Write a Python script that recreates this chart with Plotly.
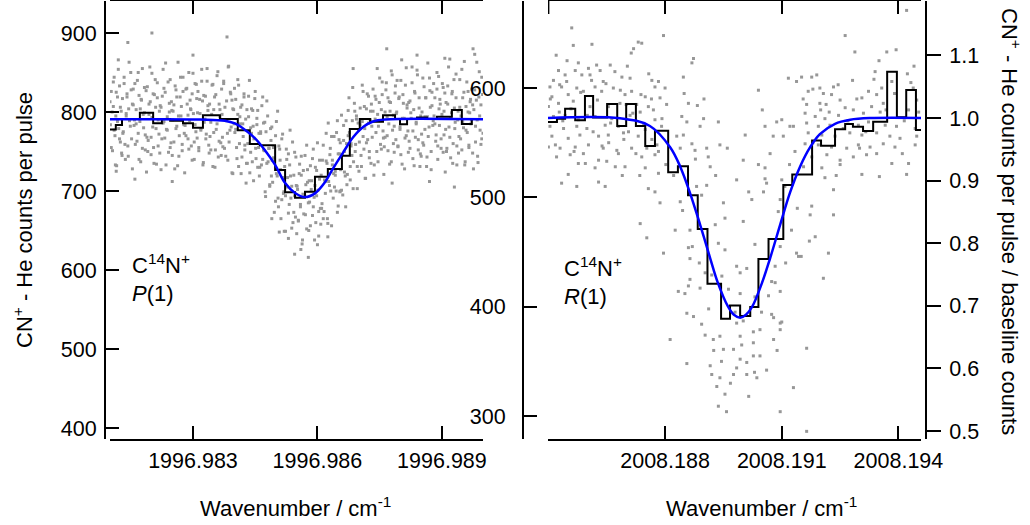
import plotly.graph_objects as go

W, H = 1030, 525
FONT = "Liberation Sans, Arial, Helvetica, sans-serif"

# ================= LEFT PANEL : C14N+  P(1) =================
left_xticks = [1996.983, 1996.986, 1996.989]
left_xticktext = ["1996.983", "1996.986", "1996.989"]
left_yticks = [400, 500, 600, 700, 800, 900]
left_xrange = [1996.98100, 1996.98999]
left_yrange = [386.1, 940.5]

left_hist_edges = [1996.98100, 1996.98114, 1996.98129, 1996.98172, 1996.98204, 1996.98225,
                   1996.98245, 1996.98276, 1996.98300, 1996.98324, 1996.98365, 1996.98408,
                   1996.98437, 1996.98461, 1996.98498, 1996.98522, 1996.98546, 1996.98570,
                   1996.98594, 1996.98625, 1996.98659, 1996.98678, 1996.98702, 1996.98727,
                   1996.98758, 1996.98787, 1996.98799, 1996.98816, 1996.98840, 1996.98864,
                   1996.98888, 1996.98924, 1996.98948, 1996.98972, 1996.98999]
left_hist_counts = [778, 783.5, 791, 799, 785.7, 791, 789, 785.7, 780, 796, 791, 777,
                    759.5, 758, 726.6, 698.4, 691.6, 699, 718, 728, 744.7, 778.5, 791,
                    787.7, 796, 791, 784.4, 791, 793, 791, 794, 802.5, 784.8, 791]

left_fit_x = [1996.98100, 1996.98317, 1996.98377, 1996.98401, 1996.98425, 1996.98449,
              1996.98473, 1996.98498, 1996.98522, 1996.98546, 1996.98570, 1996.98594,
              1996.98618, 1996.98637, 1996.98661, 1996.98686, 1996.98710, 1996.98734,
              1996.98763, 1996.98999]
left_fit_y = [790.7, 790.5, 789, 785.5, 777.5, 767, 752, 733, 710, 697.5, 692.3, 697,
              711, 728, 748, 768, 781, 788, 790.5, 790.7]

# scatter (scan 1): wavenumber offsets from 1996.98 in units of 1e-5 cm^-1
left_scan1_x_e5 = [
    101, 103, 106, 108, 110, 112, 114, 116, 118, 121, 123, 125, 127, 129,
    130, 132, 134, 137, 139, 141, 143, 145, 147, 150, 152, 154, 156, 158,
    161, 163, 166, 168, 170, 172, 174, 176, 178, 181, 183, 185, 187, 189,
    190, 192, 194, 197, 199, 201, 203, 205, 207, 210, 212, 214, 216, 218,
    221, 223, 226, 228, 230, 232, 234, 236, 238, 241, 243, 245, 247, 249,
    250, 252, 254, 257, 259, 261, 263, 265, 267, 270, 272, 274, 276, 278,
    281, 283, 286, 288, 290, 292, 294, 296, 298, 301, 303, 305, 307, 309,
    310, 312, 314, 317, 319, 321, 323, 325, 327, 330, 332, 334, 336, 338,
    341, 343, 346, 348, 350, 352, 354, 356, 358, 361, 363, 365, 367, 369,
    370, 372, 374, 377, 379, 381, 383, 385, 387, 390, 392, 394, 396, 398,
    401, 403, 406, 408, 410, 412, 414, 416, 418, 421, 423, 425, 427, 429,
    430, 432, 434, 437, 439, 441, 443, 445, 447, 450, 452, 454, 456, 458,
    461, 463, 466, 468, 470, 472, 474, 476, 478, 481, 483, 485, 487, 489,
    490, 492, 494, 497, 499, 501, 503, 505, 507, 510, 512, 514, 516, 518,
    521, 523, 526, 528, 530, 532, 534, 536, 538, 541, 543, 545, 547, 549,
    550, 552, 554, 557, 559, 561, 563, 565, 567, 570, 572, 574, 576, 578,
    581, 583, 586, 588, 590, 592, 594, 596, 598, 601, 603, 605, 607, 609,
    610, 612, 614, 617, 619, 621, 623, 625, 627, 630, 632, 634, 636, 638,
    641, 643, 646, 648, 650, 652, 654, 656, 658, 661, 663, 665, 667, 669,
    670, 672, 674, 677, 679, 681, 683, 685, 687, 690, 692, 694, 696, 698,
    701, 703, 706, 708, 710, 712, 714, 716, 718, 721, 723, 725, 727, 729,
    730, 732, 734, 737, 739, 741, 743, 745, 747, 750, 752, 754, 756, 758,
    761, 763, 766, 768, 770, 772, 774, 776, 778, 781, 783, 785, 787, 789,
    790, 792, 794, 797, 799, 801, 803, 805, 807, 810, 812, 814, 816, 818,
    821, 823, 826, 828, 830, 832, 834, 836, 838, 841, 843, 845, 847, 849,
    850, 852, 854, 857, 859, 861, 863, 865, 867, 870, 872, 874, 876, 878,
    881, 883, 886, 888, 890, 892, 894, 896, 898, 901, 903, 905, 907, 909,
    910, 912, 914, 917, 919, 921, 923, 925, 927, 930, 932, 934, 936, 938,
    941, 943, 946, 948, 950, 952, 954, 956, 958, 961, 963, 965, 967, 969,
    970, 972, 974, 977, 979, 981, 983, 985, 987, 990, 992, 994, 996, 998,
    201, 143, 382, 767, 975, 907, 686, 120, 300, 840, 250, 160, 115, 870,
    930, 780, 545, 560, 578, 530, 600, 625, 508, 655, 490,
]
left_scan1_y = [
    784, 826, 751, 807, 844, 770, 795, 732, 819, 779, 833, 762, 801, 745,
    817, 775, 836, 740, 798, 823, 757, 804, 789, 850, 766, 810, 829, 783,
    759, 803, 840, 773, 821, 788, 737, 815, 855, 780, 799, 752, 827, 768,
    832, 764, 797, 813, 746, 849, 781, 755, 822, 806, 734, 837, 790, 772,
    808, 727, 820, 786, 830, 767, 862, 778, 794, 749, 811, 841, 761, 802,
    745, 801, 762, 833, 779, 819, 732, 795, 770, 844, 807, 751, 826, 784,
    783, 829, 810, 766, 850, 789, 804, 757, 823, 798, 740, 836, 775, 817,
    767, 826, 751, 798, 779, 854, 814, 736, 787, 820, 772, 839, 802, 758,
    769, 787, 834, 731, 803, 819, 752, 778, 846, 743, 810, 794, 761, 829,
    797, 756, 836, 806, 744, 789, 773, 857, 762, 825, 781, 815, 722, 803,
    774, 816, 741, 797, 834, 760, 785, 722, 809, 769, 823, 752, 791, 735,
    803, 760, 820, 723, 780, 804, 737, 782, 766, 826, 741, 784, 802, 755,
    730, 773, 808, 740, 786, 751, 699, 775, 814, 737, 754, 706, 779, 719,
    781, 711, 742, 756, 687, 788, 719, 691, 757, 739, 665, 766, 717, 697,
    731, 649, 740, 705, 747, 683, 777, 691, 706, 660, 720, 749, 667, 707,
    646, 702, 663, 734, 680, 720, 633, 696, 671, 745, 708, 652, 727, 685,
    686, 732, 713, 669, 753, 692, 707, 660, 726, 701, 643, 739, 678, 720,
    678, 739, 665, 714, 697, 773, 735, 659, 712, 746, 700, 769, 733, 691,
    705, 725, 774, 673, 747, 765, 699, 727, 796, 695, 764, 750, 719, 789,
    760, 721, 802, 774, 714, 760, 745, 831, 737, 801, 759, 795, 703, 786,
    762, 805, 731, 788, 826, 753, 779, 716, 804, 765, 820, 750, 790, 735,
    810, 768, 829, 733, 791, 816, 750, 797, 782, 843, 759, 803, 822, 776,
    756, 800, 837, 770, 818, 785, 734, 812, 852, 777, 796, 749, 824, 765,
    798, 840, 757, 819, 781, 746, 866, 792, 811, 728, 834, 770, 805, 776,
    763, 814, 792, 857, 741, 803, 826, 768, 785, 847, 752, 818, 731, 795,
    744, 800, 761, 832, 778, 818, 731, 794, 769, 843, 806, 750, 825, 783,
    795, 818, 771, 829, 757, 845, 783, 810, 766, 836, 749, 801, 824, 778,
    812, 754, 833, 781, 867, 742, 799, 826, 760, 805, 787, 848, 733, 790,
    769, 841, 795, 752, 818, 780, 864, 737, 807, 774, 826, 758, 799, 816,
    785, 829, 748, 803, 873, 762, 815, 790, 736, 851, 777, 809, 766, 822,
    900, 888, 895, 880, 880, 868, 855, 866, 872, 872, 712, 715, 725, 712,
    705, 710, 620, 626, 616, 640, 632, 642, 648, 700, 665,
]

# scatter (scan 2)
left_scan2_x_e5 = [
    100, 103, 105, 108, 110, 113, 115, 118, 120, 123, 125, 128,
    131, 134, 136, 139, 141, 144, 146, 149, 151, 154, 156, 159,
    160, 163, 165, 168, 170, 173, 175, 178, 180, 183, 185, 188,
    191, 194, 196, 199, 201, 204, 206, 209, 211, 214, 216, 219,
    220, 223, 225, 228, 230, 233, 235, 238, 240, 243, 245, 248,
    251, 254, 256, 259, 261, 264, 266, 269, 271, 274, 276, 279,
    280, 283, 285, 288, 290, 293, 295, 298, 300, 303, 305, 308,
    311, 314, 316, 319, 321, 324, 326, 329, 331, 334, 336, 339,
    340, 343, 345, 348, 350, 353, 355, 358, 360, 363, 365, 368,
    371, 374, 376, 379, 381, 384, 386, 389, 391, 394, 396, 399,
    400, 403, 405, 408, 410, 413, 415, 418, 420, 423, 425, 428,
    431, 434, 436, 439, 441, 444, 446, 449, 451, 454, 456, 459,
    460, 463, 465, 468, 470, 473, 475, 478, 480, 483, 485, 488,
    491, 494, 496, 499, 501, 504, 506, 509, 511, 514, 516, 519,
    520, 523, 525, 528, 530, 533, 535, 538, 540, 543, 545, 548,
    551, 554, 556, 559, 561, 564, 566, 569, 571, 574, 576, 579,
    580, 583, 585, 588, 590, 593, 595, 598, 600, 603, 605, 608,
    611, 614, 616, 619, 621, 624, 626, 629, 631, 634, 636, 639,
    640, 643, 645, 648, 650, 653, 655, 658, 660, 663, 665, 668,
    671, 674, 676, 679, 681, 684, 686, 689, 691, 694, 696, 699,
    700, 703, 705, 708, 710, 713, 715, 718, 720, 723, 725, 728,
    731, 734, 736, 739, 741, 744, 746, 749, 751, 754, 756, 759,
    760, 763, 765, 768, 770, 773, 775, 778, 780, 783, 785, 788,
    791, 794, 796, 799, 801, 804, 806, 809, 811, 814, 816, 819,
    820, 823, 825, 828, 830, 833, 835, 838, 840, 843, 845, 848,
    851, 854, 856, 859, 861, 864, 866, 869, 871, 874, 876, 879,
    880, 883, 885, 888, 890, 893, 895, 898, 900, 903, 905, 908,
    911, 914, 916, 919, 921, 924, 926, 929, 931, 934, 936, 939,
    940, 943, 945, 948, 950, 953, 955, 958, 960, 963, 965, 968,
    971, 974, 976, 979, 981, 984, 986, 989, 991, 994, 996, 999,
]
left_scan2_y = [
    813, 755, 800, 838, 777, 733, 825, 788, 854, 766, 806, 748,
    773, 844, 759, 795, 819, 744, 863, 782, 828, 728, 809, 790,
    836, 785, 763, 850, 740, 804, 816, 754, 797, 831, 771, 724,
    750, 810, 857, 768, 793, 823, 735, 841, 779, 818, 757, 801,
    748, 806, 766, 854, 788, 825, 733, 777, 838, 800, 755, 813,
    790, 809, 728, 828, 782, 863, 744, 819, 795, 759, 844, 773,
    723, 770, 830, 796, 753, 815, 803, 739, 849, 762, 784, 835,
    799, 755, 816, 777, 839, 733, 821, 791, 766, 855, 808, 748,
    810, 752, 797, 835, 774, 730, 822, 785, 851, 763, 803, 745,
    768, 839, 754, 790, 814, 739, 858, 777, 823, 723, 804, 785,
    830, 778, 755, 841, 731, 794, 806, 743, 785, 819, 758, 710,
    735, 794, 840, 749, 773, 802, 713, 817, 754, 792, 730, 773,
    719, 775, 733, 819, 752, 787, 693, 735, 795, 754, 708, 764,
    739, 755, 673, 770, 722, 801, 680, 753, 727, 689, 772, 699,
    649, 694, 753, 717, 672, 733, 719, 653, 762, 673, 694, 743,
    706, 662, 722, 683, 744, 638, 726, 695, 670, 758, 711, 650,
    713, 656, 702, 741, 680, 638, 730, 694, 761, 674, 715, 658,
    684, 758, 674, 712, 738, 665, 786, 707, 754, 656, 739, 722,
    769, 720, 700, 789, 681, 747, 761, 701, 746, 783, 724, 680,
    708, 770, 818, 731, 757, 789, 703, 811, 750, 791, 731, 777,
    725, 784, 745, 834, 769, 807, 716, 761, 823, 786, 742, 801,
    782, 801, 720, 820, 774, 855, 737, 812, 789, 753, 838, 767,
    721, 768, 828, 794, 751, 813, 801, 737, 847, 760, 782, 833,
    800, 756, 817, 778, 840, 734, 822, 792, 767, 856, 809, 749,
    812, 754, 799, 837, 776, 732, 824, 787, 853, 765, 805, 747,
    772, 843, 758, 794, 818, 743, 862, 781, 827, 727, 808, 789,
    836, 785, 763, 850, 740, 804, 816, 754, 797, 831, 771, 724,
    750, 810, 857, 768, 793, 823, 735, 841, 779, 818, 757, 801,
    748, 806, 766, 854, 788, 825, 733, 777, 838, 800, 755, 813,
    790, 809, 728, 828, 782, 863, 744, 819, 795, 759, 844, 773,
]

# ================= RIGHT PANEL : C14N+  R(1) =================
right_xticks = [2008.188, 2008.191, 2008.194]
right_xticktext = ["2008.188", "2008.191", "2008.194"]
right_yticks = [300, 400, 500, 600]
right_ratio_ticks = [0.5, 0.6, 0.7, 0.8, 0.9, 1.0, 1.1]
right_ratio_text = ["0.5", "0.6", "0.7", "0.8", "0.9", "1.0", "1.1"]
right_xrange = [2008.18499, 2008.19458]
right_yrange = [279.0, 679.6]
right_ratio_range = [0.48722, 1.1869]
right_baseline = 572.6

right_hist_edges = [2008.18499, 2008.18522, 2008.18543, 2008.18569, 2008.18594, 2008.18615,
                    2008.18651, 2008.18677, 2008.18700, 2008.18725, 2008.18749, 2008.18774,
                    2008.18808, 2008.18833, 2008.18859, 2008.18884, 2008.18909, 2008.18944,
                    2008.18967, 2008.18993, 2008.19019, 2008.19040, 2008.19066, 2008.19104,
                    2008.19127, 2008.19178, 2008.19201, 2008.19237, 2008.19263, 2008.19283,
                    2008.19309, 2008.19335, 2008.19371, 2008.19396, 2008.19420, 2008.19445,
                    2008.19458]
right_hist_counts = [569, 572, 581, 570.5, 592.7, 573, 585.4, 565.3, 585.4, 565.3, 547, 561,
                     523, 528.5, 502, 471, 421, 389, 401, 391.4, 399.7, 443.6, 462, 511.4,
                     521, 552, 547.3, 562.3, 567.1, 564.6, 560.7, 569.2, 614.9, 573.2,
                     598.2, 561.6]

right_fit_x = [2008.18499, 2008.18684, 2008.18761, 2008.18813, 2008.18839, 2008.18864,
               2008.18890, 2008.18916, 2008.18936, 2008.18962, 2008.18977, 2008.18993,
               2008.19008, 2008.19024, 2008.19049, 2008.19070, 2008.19096, 2008.19121,
               2008.19147, 2008.19173, 2008.19198, 2008.19237, 2008.19276, 2008.19327,
               2008.19458]
right_fit_y = [572.6, 572.4, 565.3, 545.9, 528.1, 504.1, 475.1, 444.3, 421.6, 400, 392.6,
               390, 392.6, 400, 421.6, 444.3, 475.1, 504.1, 528.1, 545.9, 557.8, 567.3,
               571, 572.5, 572.6]

# scatter: wavenumber offsets from 2008.18 in units of 1e-5 cm^-1
right_pts_x_e5 = [
    796, 564, 740, 719, 713, 577, 624, 659, 526, 569, 603, 633, 543, 586, 671,
    513, 547, 611, 641, 689, 710, 766, 783, 504, 534, 573, 620, 667, 714, 774, 800,
    509, 551, 590, 637, 697, 749, 787, 500, 526, 564, 607, 654, 684, 727, 757, 804,
    513, 543, 577, 620, 663, 710, 736, 774, 504, 539, 573, 599, 646, 680, 706, 749, 791,
    509, 551, 581, 629, 654, 693, 731, 766, 500, 530, 569, 603, 641, 676, 714, 753, 783,
    521, 556, 590, 629, 680, 740, 774, 577, 620, 650, 697, 749, 551, 783,
    534, 573, 629, 646, 757, 774, 787, 736, 753, 731, 796,
    873, 869, 847, 849, 860, 843, 856, 890, 899, 937, 883, 830, 847, 839, 869, 877,
    907, 911, 916, 941, 907, 881, 894, 839, 864, 860, 864, 834, 890, 864, 903, 946,
    954, 937, 929, 950, 954, 984, 1001, 1023, 1006, 984, 1010, 1031, 1040, 1057, 1078,
    1087, 1100, 1104, 1121, 1130, 1117, 1138, 1040, 1057, 1057, 1061, 1053, 1001, 1100,
    1096, 1091, 1108, 1134, 1138, 1143, 1096, 1083, 1096, 1100, 1031, 1074, 993,
    813, 856, 916, 920, 933, 937, 958, 954, 941, 950, 976, 993, 1010, 1027, 1044, 1061,
    1036, 1010, 976, 984, 903, 924, 941, 993, 1027, 1044, 1079, 1027, 984, 1001, 1096,
    1096, 1079, 894, 856, 873, 851, 860, 963, 993, 1083, 1074, 1164, 1130, 1096, 1164, 920,
    1421, 1263, 1288, 1370, 1394, 1151, 1177, 1282, 1337, 1423, 1168, 1180, 1198, 1233,
    1323, 1357, 1383, 1438, 1207, 1228, 1250, 1306, 1344, 1164, 1198, 1214, 1263, 1284,
    1331, 1361, 1447, 1160, 1186, 1211, 1246, 1310, 1353, 1426, 1164, 1194, 1224, 1258,
    1297, 1323, 1366, 1395, 1443, 1168, 1203, 1237, 1275, 1306, 1344, 1378, 1404, 1447,
    1160, 1194, 1228, 1267, 1297, 1327, 1361, 1391, 1443, 1177, 1216, 1250, 1284, 1318,
    1344, 1383, 1426, 1156, 1203, 1250, 1306, 1351, 1421, 1211, 1233, 1177, 1173, 1233,
    1186, 1171, 1220, 1150, 1207,
    505, 518, 529, 537, 548, 558, 566, 583, 595, 607, 615, 626, 638, 648, 660, 672,
    685, 694, 703, 717, 725, 738, 745, 758, 770, 779, 792, 802, 520, 560, 612, 690,
    735, 528, 600, 655, 700, 765,
    826, 845, 870, 888, 912, 925, 945, 968, 980, 997, 1015, 1030, 1048, 1066, 1088,
    1110, 1125, 1140, 822, 878, 930, 1015, 1070, 1120, 960, 1050, 900,
    1155, 1190, 1222, 1245, 1270, 1293, 1316, 1340, 1368, 1390, 1415, 1432, 1452,
    1180, 1240, 1300, 1350, 1410, 1440, 1200,
]
right_pts_y = [
    648, 639, 641, 636, 632, 623, 621, 621, 616, 616, 618, 616, 612, 612, 615,
    607, 606, 607, 606, 610, 609, 607, 606, 601, 601, 600, 601, 600, 597, 601, 600,
    592, 594, 597, 597, 594, 592, 591, 583, 586, 588, 583, 583, 586, 585, 583, 585,
    574, 575, 571, 574, 572, 575, 578, 571, 565, 563, 565, 563, 566, 565, 560, 562, 565,
    556, 554, 557, 556, 557, 559, 556, 553, 546, 545, 546, 548, 545, 543, 545, 545, 542,
    537, 539, 540, 534, 540, 537, 539, 531, 527, 533, 528, 527, 521, 522,
    513, 510, 514, 510, 508, 505, 495, 476, 463, 642, 449,
    627, 623, 610, 595, 586, 574, 569, 565, 572, 569, 584, 556, 557, 545, 549, 543,
    545, 537, 528, 548, 511, 510, 502, 496, 470, 454, 444, 414, 417, 425, 431, 428,
    452, 458, 475, 495, 481, 516, 478, 498, 557, 437, 435, 457, 598, 565, 556,
    569, 571, 556, 565, 565, 609, 606, 530, 527, 517, 513, 505, 534, 516,
    498, 487, 510, 542, 449, 446, 455, 422, 414, 386, 409, 393, 412,
    370, 348, 346, 338, 327, 309, 304, 320, 335, 361, 361, 352, 349, 355, 355, 342,
    335, 338, 338, 344, 374, 370, 373, 373, 377, 379, 370, 367, 385, 387, 385,
    379, 390, 384, 394, 391, 412, 419, 416, 431, 437, 423, 362, 326, 304, 286, 429,
    671, 648, 633, 633, 635, 610, 610, 607, 608, 613, 597, 599, 600, 601,
    597, 600, 606, 600, 595, 594, 589, 591, 594, 585, 586, 585, 582, 580,
    583, 586, 589, 577, 574, 572, 575, 577, 578, 580, 568, 565, 566, 563,
    566, 569, 566, 565, 563, 559, 557, 556, 559, 557, 559, 556, 554, 556,
    549, 548, 546, 545, 548, 546, 549, 546, 548, 537, 539, 534, 537, 539,
    540, 531, 531, 528, 527, 530, 521, 519, 521, 518, 507, 492, 484, 484,
    464, 460, 449, 446, 426,
    590, 548, 603, 570, 625, 581, 542, 596, 531, 612, 560, 589, 547, 604, 568, 528,
    598, 553, 620, 577, 540, 594, 566, 613, 580, 548, 572, 530, 630, 655, 640, 520,
    520, 578, 575, 550, 585, 590,
    470, 488, 455, 440, 398, 360, 350, 330, 395, 365, 318, 340, 395, 410, 360,
    440, 470, 490, 520, 535, 520, 505, 540, 530, 545, 580, 590,
    590, 612, 578, 603, 570, 590, 560, 615, 580, 595, 570, 605, 578,
    550, 520, 545, 625, 540, 620, 580,
]

# ================= build figure =================
left_x1 = [1996.98 + v * 1e-5 for v in left_scan1_x_e5]
left_x2 = [1996.98 + v * 1e-5 for v in left_scan2_x_e5]
right_x = [2008.18 + v * 1e-5 for v in right_pts_x_e5]

GREY = "#979797"
dot = dict(symbol="square", size=3, color=GREY, line=dict(width=0))
fig = go.Figure()

fig.add_trace(go.Scatter(x=left_x1 + left_x2, y=left_scan1_y + left_scan2_y, mode="markers",
                         marker=dot, xaxis="x", yaxis="y", hoverinfo="skip"))
fig.add_trace(go.Scatter(x=left_hist_edges, y=left_hist_counts + [left_hist_counts[-1]],
                         mode="lines", line=dict(shape="hv", color="black", width=2),
                         xaxis="x", yaxis="y"))
fig.add_trace(go.Scatter(x=left_fit_x, y=left_fit_y, mode="lines",
                         line=dict(shape="spline", color="#0000ff", width=2.5),
                         xaxis="x", yaxis="y"))

fig.add_trace(go.Scatter(x=right_x, y=right_pts_y, mode="markers",
                         marker=dot, xaxis="x2", yaxis="y2", hoverinfo="skip"))
fig.add_trace(go.Scatter(x=right_hist_edges, y=right_hist_counts + [right_hist_counts[-1]],
                         mode="lines", line=dict(shape="hv", color="black", width=2),
                         xaxis="x2", yaxis="y2"))
fig.add_trace(go.Scatter(x=right_fit_x, y=right_fit_y, mode="lines",
                         line=dict(shape="spline", color="#0000ff", width=2.5),
                         xaxis="x2", yaxis="y2"))
# carrier for the ratio axis (fit normalised to baseline; drawn invisibly)
fig.add_trace(go.Scatter(x=right_fit_x, y=[v / right_baseline for v in right_fit_y],
                         mode="lines", line=dict(width=0), opacity=0,
                         xaxis="x2", yaxis="y3", hoverinfo="skip"))

tickfont = dict(family=FONT, size=21.5, color="black")
common = dict(showgrid=False, zeroline=False, showline=True, linecolor="black",
              linewidth=2, tickcolor="black", tickwidth=2, tickfont=tickfont,
              fixedrange=True, automargin=False)

ydom = [1 - 439 / H, 1 - 1 / H]

fig.update_layout(
    width=W, height=H, autosize=False,
    margin=dict(l=0, r=0, t=0, b=0, pad=0, autoexpand=False),
    paper_bgcolor="white", plot_bgcolor="white",
    showlegend=False,
    font=dict(family=FONT, size=21, color="black"),
    xaxis=dict(domain=[110 / W, 483 / W], range=left_xrange, anchor="y",
               tickmode="array", tickvals=left_xticks, ticktext=left_xticktext,
               ticks="inside", ticklen=13, mirror="ticks", ticklabelstandoff=1, **common),
    yaxis=dict(domain=ydom, range=left_yrange, anchor="free", position=105 / W,
               tickmode="array", tickvals=left_yticks,
               ticks="inside", ticklen=13, ticklabelstandoff=3, **common),
    xaxis2=dict(domain=[548 / W, 921 / W], range=right_xrange, anchor="y2",
                tickmode="array", tickvals=right_xticks, ticktext=right_xticktext,
                ticks="inside", ticklen=13, mirror="ticks", ticklabelstandoff=1, **common),
    yaxis2=dict(domain=ydom, range=right_yrange, anchor="free", position=523 / W,
                tickmode="array", tickvals=right_yticks,
                ticks="inside", ticklen=13, ticklabelstandoff=12, **common),
    yaxis3=dict(domain=ydom, range=right_ratio_range, anchor="free", position=926 / W,
                overlaying="y2", side="right",
                tickmode="array", tickvals=right_ratio_ticks, ticktext=right_ratio_text,
                ticks="outside", ticklen=14, ticklabelstandoff=4, **common),
)

ann_font = dict(family=FONT, size=22, color="black")
annotations = [
    dict(text="CN<sup>+</sup> - He counts per pulse", x=23 / W, y=1 - 220 / H,
         textangle=-90, yanchor="middle"),
    dict(text="CN<sup>+</sup> - He counts per pulse / baseline counts", x=1011 / W,
         y=1 - 221 / H, textangle=90, yanchor="middle"),
    dict(text="Wavenumber / cm<sup>-1</sup>", x=296 / W, y=1 - 507 / H, yanchor="middle"),
    dict(text="Wavenumber / cm<sup>-1</sup>", x=761 / W, y=1 - 507 / H, yanchor="middle"),
]
for a in annotations:
    a.update(xref="paper", yref="paper", showarrow=False, font=ann_font, xanchor="center")

# panel labels: two stacked lines whose boxes just meet
labels = [
    dict(text="C<sup>14</sup>N<sup>+</sup>", x=131 / W, y=1 - 279 / H, yanchor="bottom"),
    dict(text="<i>P</i>(1)", x=131 / W, y=1 - 280 / H, yanchor="top"),
    dict(text="C<sup>14</sup>N<sup>+</sup>", x=563 / W, y=1 - 282 / H, yanchor="bottom"),
    dict(text="<i>R</i>(1)", x=563 / W, y=1 - 283 / H, yanchor="top"),
]
for a in labels:
    a.update(xref="paper", yref="paper", showarrow=False, font=ann_font,
             xanchor="left", borderpad=0)
fig.update_layout(annotations=annotations + labels)

# extra top tick at the left end of the right panel's top axis
fig.add_shape(type="line", xref="x2", yref="paper", x0=2008.185, x1=2008.185,
              y0=1 - 1 / H, y1=1 - 14 / H, line=dict(color="black", width=2))

fig.write_html(
    "out.html",
    config={"responsive": False, "displayModeBar": False},
    post_script="document.documentElement.style.margin='0';document.body.style.margin='0';"
                "document.documentElement.style.overflow='hidden';document.body.style.overflow='hidden';",
)
